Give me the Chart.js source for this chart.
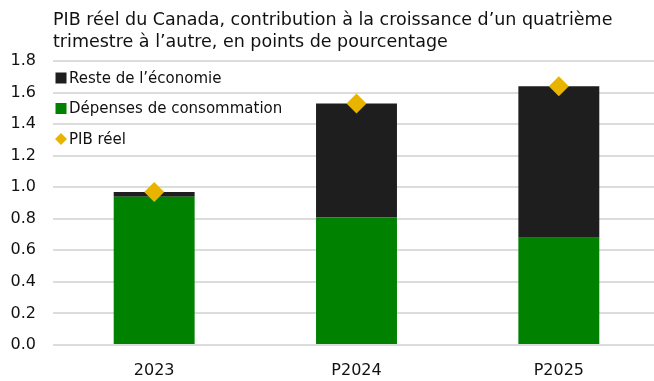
<!DOCTYPE html>
<html><head><meta charset="utf-8">
<script src="https://cdn.jsdelivr.net/npm/chart.js@4"></script>
<style>html,body{margin:0;padding:0;background:#fff;overflow:hidden;width:654px;height:381px}#wrap{width:670px;height:381px;position:relative}</style>
</head><body><div id="wrap"><canvas id="c"></canvas></div>
<script>
const categories = ['2023', 'P2024', 'P2025'];
const consommation = [0.94, 0.81, 0.68];
const resteEconomie = [0.03, 0.72, 0.96];
const pibReel = [0.97, 1.53, 1.64];
const yTicks = [0, 0.2, 0.4, 0.6, 0.8, 1.0, 1.2, 1.4, 1.6, 1.8];
const titleLines = ['PIB réel du Canada, contribution à la croissance d’un quatrième', 'trimestre à l’autre, en points de pourcentage'];
const legendOrder = [1, 0, 2];

const FONT = "'DejaVu Sans', sans-serif";
const GREEN = '#008200', BLACK = '#1e1e1e', GOLD = '#E8B400';

const titlePlugin = {
  id: 'titleP',
  afterDraw(chart) {
    const ctx = chart.ctx, a = chart.chartArea;
    ctx.save();
    ctx.fillStyle = '#111';
    ctx.font = '17.5px ' + FONT;
    ctx.textBaseline = 'alphabetic';
    ctx.textAlign = 'left';
    titleLines.forEach((t, i) => ctx.fillText(t, a.left, 25 + i * 22));
    ctx.restore();
  }
};
const legendPlugin = {
  id: 'legendP',
  afterDraw(chart) {
    const ctx = chart.ctx, a = chart.chartArea;
    ctx.save();
    ctx.font = '15px ' + FONT;
    ctx.textBaseline = 'middle';
    legendOrder.forEach((di, i) => {
      const ds = chart.data.datasets[di];
      const cy = 78 + i * 30.5;
      const cx = a.left + 8;
      ctx.fillStyle = ds.backgroundColor;
      if (ds.type === 'line') {
        ctx.beginPath();
        ctx.moveTo(cx, cy - 6); ctx.lineTo(cx + 6, cy); ctx.lineTo(cx, cy + 6); ctx.lineTo(cx - 6, cy); ctx.closePath();
        ctx.fill();
      } else {
        ctx.fillRect(cx - 5.5, cy - 5.5, 11, 11);
      }
      ctx.fillStyle = '#111';
      ctx.fillText(ds.label, cx + 8, cy + 1);
    });
    ctx.restore();
  }
};

new Chart(document.getElementById('c'), {
  type: 'bar',
  data: {
    labels: categories,
    datasets: [
      { label: 'Dépenses de consommation', data: consommation, backgroundColor: GREEN, stack: 's', order: 1 },
      { label: 'Reste de l’économie', data: resteEconomie, backgroundColor: BLACK, stack: 's', order: 1 },
      { type: 'line', label: 'PIB réel', data: pibReel, backgroundColor: GOLD, borderColor: GOLD, showLine: false,
        pointStyle: 'rectRot', pointRadius: 10, pointHoverRadius: 10, borderWidth: 0, order: 0 }
    ]
  },
  options: {
    responsive: true, maintainAspectRatio: false, animation: false,
    layout: { padding: { top: 61, left: 0, right: 0, bottom: 0 } },
    plugins: { legend: { display: false }, tooltip: { enabled: false }, title: { display: false } },
    datasets: { bar: { categoryPercentage: 1, barPercentage: 0.4 } },
    scales: {
      x: { stacked: true, grid: { display: false }, border: { display: false },
        afterFit: s => { s.height = 36; s.paddingRight = 0; s.paddingLeft = 0; },
        ticks: { color: '#111', font: { family: FONT, size: 16 }, padding: 8 } },
      y: { stacked: true, min: 0, max: 1.8, afterBuildTicks: s => { s.ticks = yTicks.map(v => ({ value: v })); },
        afterFit: s => { s.width = 53; },
        grid: { color: '#dcdcdc', lineWidth: 2, drawTicks: false }, border: { display: false },
        ticks: { color: '#111', font: { family: FONT, size: 16 }, padding: 17, callback: v => Number(v).toFixed(1) } }
    }
  },
  plugins: [titlePlugin, legendPlugin]
});
</script></body></html>
